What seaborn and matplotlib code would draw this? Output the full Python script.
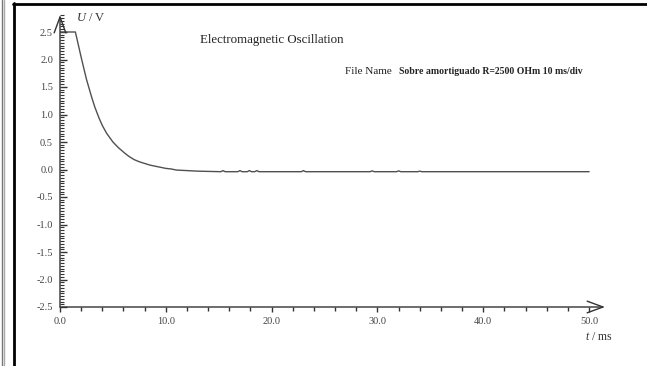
import numpy as np
import pandas as pd
import matplotlib
matplotlib.use("Agg")
import matplotlib.pyplot as plt
from matplotlib.lines import Line2D
from matplotlib.ticker import MultipleLocator
import seaborn as sns

# voltage trace
t_ms = [0.0, 1.45, 1.55, 2.0, 2.5, 3.0, 3.3, 3.7, 4.0, 4.4, 5.0, 5.5, 6.1, 6.5,
        7.0, 7.5, 8.0, 8.5, 9.0, 9.5, 10.0, 10.5, 11.0, 12.0, 13.0, 15.2, 15.4,
        15.6, 15.8, 16.8, 17.0, 17.2, 17.7, 17.9, 18.1, 18.4, 18.6, 18.8, 22.8,
        23.0, 23.2, 29.3, 29.5, 29.7, 31.8, 32.0, 32.2, 33.8, 34.0, 34.2, 50.0]
u_volt = [2.5, 2.5, 2.42, 2.04, 1.64, 1.31, 1.13, 0.93, 0.80, 0.66, 0.50, 0.40,
          0.30, 0.24, 0.18, 0.14, 0.11, 0.08, 0.06, 0.04, 0.02, 0.01, -0.01,
          -0.02, -0.03, -0.04, -0.02, -0.04, -0.04, -0.04, -0.02, -0.04, -0.04,
          -0.02, -0.04, -0.04, -0.02, -0.04, -0.04, -0.02, -0.04, -0.04, -0.025,
          -0.04, -0.04, -0.025, -0.04, -0.04, -0.03, -0.04, -0.04]

x_major = [0.0, 10.0, 20.0, 30.0, 40.0, 50.0]
y_major = [-2.5, -2.0, -1.5, -1.0, -0.5, 0.0, 0.5, 1.0, 1.5, 2.0, 2.5]

df = pd.DataFrame({"t": t_ms, "U": u_volt})

sns.set_theme(style="white")
plt.rcParams["font.family"] = ["Liberation Serif", "DejaVu Serif"]
plt.rcParams["mathtext.fontset"] = "custom"
plt.rcParams["mathtext.it"] = "Liberation Serif:italic"
plt.rcParams["mathtext.rm"] = "Liberation Serif"

fig = plt.figure(figsize=(6.47, 3.66), dpi=100)
ax = fig.add_axes([60 / 647, (366 - 307) / 366, 545 / 647, (307 - 15) / 366])

sns.lineplot(data=df, x="t", y="U", ax=ax, color="#505050", linewidth=1.0,
             estimator=None, sort=False)

ax.set_xlim(0, 51.5)
ax.set_ylim(-2.5, 2.5 + 17 / 55)
ax.set_xticks(x_major)
ax.set_xticklabels([f"{v:.1f}" for v in x_major])
ax.set_yticks(y_major)
ax.set_yticklabels([f"{v:.1f}" for v in y_major])
ax.xaxis.set_minor_locator(MultipleLocator(2))
ax.yaxis.set_minor_locator(MultipleLocator(0.05))
ax.set_xlabel("")
ax.set_ylabel("")

for s in ["top", "right", "left", "bottom"]:
    ax.spines[s].set_visible(False)

ax.tick_params(axis="x", which="major", direction="out", length=3.5, width=1,
               color="#333333", labelsize=7.5, labelcolor="#444444", pad=4,
               bottom=True)
ax.tick_params(axis="x", which="minor", direction="out", length=3, width=1,
               color="#333333", bottom=True)
ax.tick_params(axis="y", which="major", direction="in", length=5, width=1,
               color="#333333", labelsize=7.5, labelcolor="#444444", pad=5,
               left=True)
ax.tick_params(axis="y", which="minor", direction="in", length=3, width=0.8,
               color="#333333", left=True)

# axis lines with open arrow heads
arrow = dict(arrowstyle="->,head_length=0.95,head_width=0.35", lw=1.0,
             color="#333333", shrinkA=0, shrinkB=0)
ax.annotate("", xy=(1, 0), xytext=(0, 0), xycoords="axes fraction",
            textcoords="axes fraction", arrowprops=arrow, annotation_clip=False)
ax.annotate("", xy=(0, 1), xytext=(0, 0), xycoords="axes fraction",
            textcoords="axes fraction", arrowprops=arrow, annotation_clip=False)

# labels and titles
fig.text(76 / 647, 1 - 18 / 366, r"$U$ / V", fontsize=9, color="#333333",
         va="center", ha="left")
fig.text(585 / 647, 1 - 337 / 366, r"$t$ / ms", fontsize=8.5,
         color="#333333", va="center", ha="left")
fig.text(200 / 647, 1 - 40 / 366, "Electromagnetic Oscillation", fontsize=9.3,
         color="#222222", va="center", ha="left")
fig.text(392 / 647, 1 - 72 / 366, "File Name", fontsize=8, color="#222222",
         va="center", ha="right")
fig.text(583 / 647, 1 - 72 / 366, "Sobre amortiguado R=2500 OHm 10 ms/div",
         fontsize=7, fontweight="bold", color="#222222", va="center",
         ha="right")

# outer frame lines
W, H = 647, 366
fig.add_artist(Line2D([2 / W, 2 / W], [0, 1], color="#777777", lw=1.0))
fig.add_artist(Line2D([4 / W, 4 / W], [0, 1], color="#aaaaaa", lw=1.0))
fig.add_artist(Line2D([13.5 / W, 13.5 / W], [0, 1 - 3 / H], color="black", lw=2.0))
fig.add_artist(Line2D([13 / W, 1], [1 - 3.5 / H, 1 - 3.5 / H], color="black", lw=2.0))

fig.savefig("out.png", dpi=100, facecolor="white")
